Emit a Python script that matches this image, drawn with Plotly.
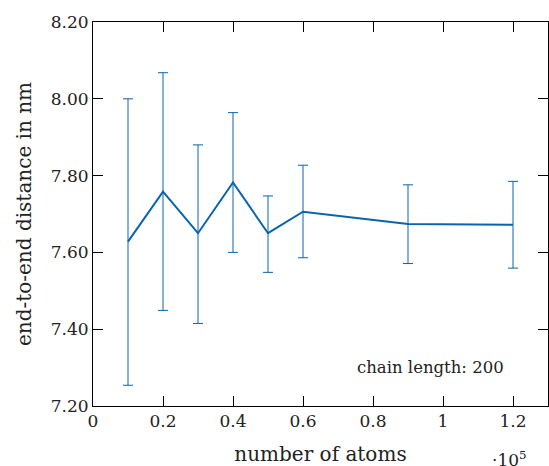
import plotly.graph_objects as go

atoms = [10000, 20000, 30000, 40000, 50000, 60000, 90000, 120000]
distance = [7.628, 7.758, 7.650, 7.782, 7.650, 7.706, 7.674, 7.672]
err_upper = [8.000, 8.068, 7.880, 7.964, 7.747, 7.827, 7.776, 7.785]
err_lower = [7.254, 7.449, 7.415, 7.600, 7.548, 7.586, 7.571, 7.559]

x_tickvals = [0, 20000, 40000, 60000, 80000, 100000, 120000]
x_ticktext = ["0", "0.2", "0.4", "0.6", "0.8", "1", "1.2"]
y_tickvals = [7.2, 7.4, 7.6, 7.8, 8.0, 8.2]
y_ticktext = ["7.20", "7.40", "7.60", "7.80", "8.00", "8.20"]

plus = [u - d for u, d in zip(err_upper, distance)]
minus = [d - l for d, l in zip(distance, err_lower)]

blue = "#0a64ad"
font = "DejaVu Serif"

fig = go.Figure()
fig.add_trace(go.Scatter(
    x=atoms, y=distance, mode="lines",
    line=dict(color=blue, width=2),
    error_y=dict(type="data", symmetric=False, array=plus, arrayminus=minus,
                 color=blue, thickness=1, width=5),
    showlegend=False,
))

axis_common = dict(showline=True, linecolor="black", linewidth=1, mirror="ticks",
                   ticks="inside", ticklen=10, tickcolor="black", tickwidth=1,
                   showgrid=False, zeroline=False,
                   tickfont=dict(family=font, size=17, color="#222"))

fig.update_xaxes(range=[0, 130000], tickvals=x_tickvals, ticktext=x_ticktext,
                 title=dict(text="number of atoms", font=dict(family=font, size=20, color="#222"),
                            standoff=17),
                 **axis_common)
fig.update_yaxes(range=[7.2, 8.2], tickvals=y_tickvals, ticktext=y_ticktext,
                 title=dict(text="end-to-end distance in nm", font=dict(family=font, size=20, color="#222"),
                            standoff=13),
                 **axis_common)

fig.add_annotation(x=0.908, y=0.1, xref="paper", yref="paper", xanchor="right", yanchor="middle",
                   text="chain length: 200", showarrow=False,
                   font=dict(family=font, size=16.5, color="#222"))
fig.add_annotation(x=0.958, y=-0.104, xref="paper", yref="paper", xanchor="right", yanchor="top",
                   text="·10<sup>5</sup>", showarrow=False,
                   font=dict(family=font, size=17, color="#222"))

fig.update_layout(width=549, height=466,
                  margin=dict(l=93, r=1, t=22, b=60),
                  plot_bgcolor="white", paper_bgcolor="white")

fig.write_html("out.html", config={"displayModeBar": False},
               post_script="document.body.style.margin='0';document.body.style.overflow='hidden';")
